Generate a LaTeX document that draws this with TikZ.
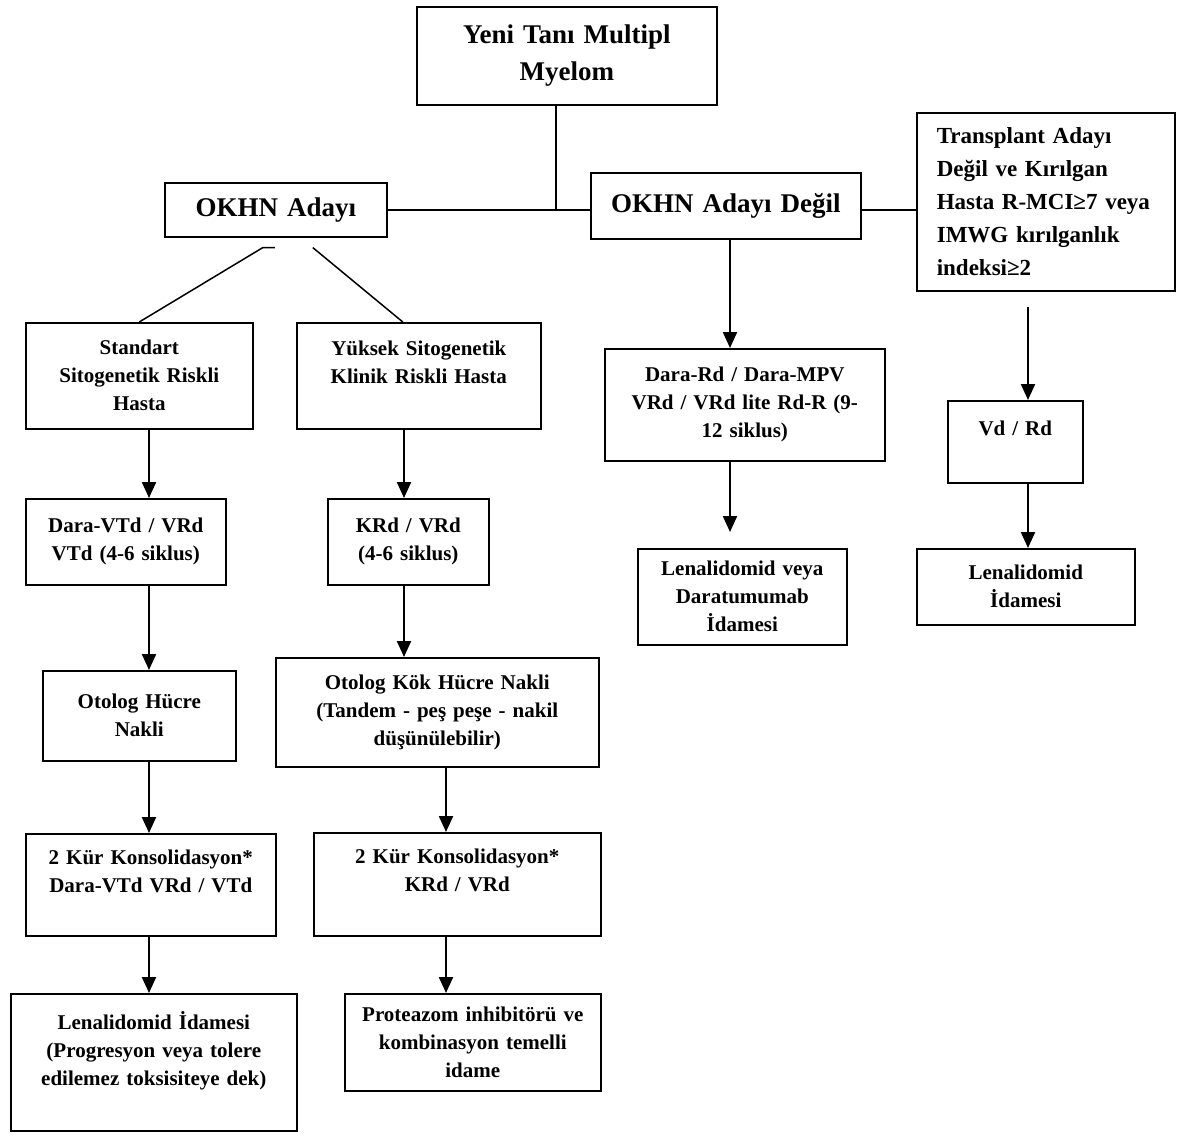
\documentclass[tikz,border=0pt]{standalone}
\usepackage{fontspec}
\setmainfont{Liberation Serif}
\usetikzlibrary{arrows.meta}

\begin{document}
\begin{tikzpicture}[x=1pt, y=-1pt, >={Triangle[length=16pt, width=14pt]}]
    % Stiller
    \tikzstyle{kutu}=[draw, line width=1.6pt, anchor=north west, inner sep=0pt, align=center, font=\bfseries\fontsize{21}{28}\selectfont]
    \tikzstyle{buyuk}=[font=\bfseries\fontsize{27}{37}\selectfont]
    \tikzstyle{ok}=[->, line width=2.2pt]
    \tikzstyle{cizgi}=[line width=1.5pt]

    \useasboundingbox (0,0) rectangle (1187,1137);

    % Sütunlar (okların x konumu)
    \coordinate (c0) at (556,0);
    \coordinate (c1) at (149,0);
    \coordinate (c2) at (404,0);
    \coordinate (c3) at (446,0);
    \coordinate (c4) at (730,0);
    \coordinate (c5) at (1028,0);

    % Kutular (Düğümler)
    \node[kutu, buyuk, text width=300pt, minimum height=98pt] (yeni) at (416,6) {Yeni Tanı Multipl\\Myelom};
    \node[kutu, buyuk, text width=222pt, minimum height=54pt] (okhn) at (164,182) {OKHN Adayı};
    \node[kutu, buyuk, text width=270pt, minimum height=66pt] (degil) at (590,172) {OKHN Adayı Değil\\[4pt]};
    \node[kutu, align=left, inner xsep=20pt, text width=218pt, minimum height=178pt,
          font=\bfseries\fontsize{23}{33}\selectfont] (trans) at (916,112)
          {Transplant Adayı\\Değil ve Kırılgan\\Hasta R-MCI≥7 veya\\IMWG kırılganlık\\indeksi≥2};

    % OKHN adayı - standart risk
    \node[kutu, text width=227pt, minimum height=106pt] (std) at (25,322) {Standart\\Sitogenetik Riskli\\Hasta};
    \node[kutu, text width=200pt, minimum height=86pt] (daravtd) at (25,498) {Dara-VTd / VRd\\VTd (4-6 siklus)\\[6pt]};
    \node[kutu, text width=193pt, minimum height=90pt] (otolog) at (42,670) {Otolog Hücre\\Nakli};
    \node[kutu, text width=250pt, minimum height=102pt] (konsL) at (25,833) {2 Kür Konsolidasyon*\\Dara-VTd VRd / VTd\\~};
    \node[kutu, text width=286pt, minimum height=137pt] (lenaL) at (10,993) {Lenalidomid İdamesi\\(Progresyon veya tolere\\edilemez toksisiteye dek)\\~};

    % OKHN adayı - yüksek risk
    \node[kutu, text width=244pt, minimum height=106pt] (yuksek) at (296,322) {Yüksek Sitogenetik\\Klinik Riskli Hasta\\~};
    \node[kutu, text width=161pt, minimum height=86pt] (krd) at (327,498) {KRd / VRd\\(4-6 siklus)\\[6pt]};
    \node[kutu, text width=323pt, minimum height=109pt] (otologkok) at (275,657) {Otolog Kök Hücre Nakli\\(Tandem - peş peşe - nakil\\düşünülebilir)};
    \node[kutu, text width=287pt, minimum height=103pt] (konsR) at (313,832) {2 Kür Konsolidasyon*\\KRd / VRd\\~};
    \node[kutu, text width=256pt, minimum height=97pt] (proteazom) at (344,993) {Proteazom inhibitörü ve\\kombinasyon temelli\\idame\\[-8pt]};

    % OKHN adayı değil
    \node[kutu, text width=280pt, minimum height=112pt] (darard) at (604,348) {Dara-Rd / Dara-MPV\\VRd / VRd lite Rd-R (9-\\12 siklus)};
    \node[kutu, text width=209pt, minimum height=96pt] (lenaveya) at (637,548) {Lenalidomid veya\\Daratumumab\\İdamesi};

    % Kırılgan hasta
    \node[kutu, text width=135pt, minimum height=82pt] (vdrd) at (947,400) {Vd / Rd\\~};
    \node[kutu, text width=218pt, minimum height=76pt] (lenaR) at (916,548) {Lenalidomid\\İdamesi};

    % Bağlantılar (Çizgiler)
    \draw[cizgi] (yeni.south -| c0) -- (okhn.east -| c0);
    \draw[cizgi] (okhn.east) -- (okhn.east -| degil.west);
    \draw[cizgi] (okhn.east -| degil.east) -- (okhn.east -| trans.west);
    \draw[cizgi] ([xshift=-1pt, yshift=-10pt]okhn.south) -- ++(-12,0) -- (std.north);
    \draw[cizgi] ([xshift=37pt, yshift=-10pt]okhn.south) -- ([xshift=-16pt]yuksek.north);

    % Oklar
    \draw[ok] (std.south -| c1) -- (daravtd.north -| c1);
    \draw[ok] (daravtd.south -| c1) -- (otolog.north -| c1);
    \draw[ok] (otolog.south -| c1) -- (konsL.north -| c1);
    \draw[ok] (konsL.south -| c1) -- (lenaL.north -| c1);

    \draw[ok] (yuksek.south -| c2) -- (krd.north -| c2);
    \draw[ok] (krd.south -| c2) -- (otologkok.north -| c2);
    \draw[ok] (otologkok.south -| c3) -- (konsR.north -| c3);
    \draw[ok] (konsR.south -| c3) -- (proteazom.north -| c3);

    \draw[ok] (degil.south -| c4) -- (darard.north -| c4);
    \draw[ok] (darard.south -| c4) -- ([yshift=16pt]lenaveya.north -| c4);

    \draw[ok] ([yshift=-15pt]trans.south -| c5) -- (vdrd.north -| c5);
    \draw[ok] (vdrd.south -| c5) -- (lenaR.north -| c5);

\end{tikzpicture}
\end{document}
